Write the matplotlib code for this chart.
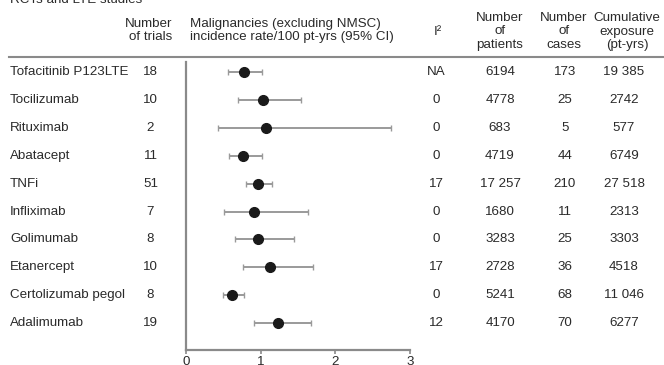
import numpy as np
import matplotlib
matplotlib.use('Agg')
import matplotlib.pyplot as plt
from matplotlib.transforms import blended_transform_factory

plt.rcParams['font.family'] = ['Liberation Sans', 'DejaVu Sans']

W, H = 664, 365

drugs = ['Tofacitinib P123LTE', 'Tocilizumab', 'Rituximab', 'Abatacept', 'TNFi',
         'Infliximab', 'Golimumab', 'Etanercept', 'Certolizumab pegol', 'Adalimumab']
n_trials = ['18', '10', '2', '11', '51', '7', '8', '10', '8', '19']
rate = [0.78, 1.03, 1.07, 0.76, 0.96, 0.91, 0.97, 1.13, 0.62, 1.23]
ci_low = [0.56, 0.70, 0.43, 0.57, 0.81, 0.51, 0.66, 0.76, 0.49, 0.91]
ci_high = [1.02, 1.54, 2.75, 1.02, 1.15, 1.64, 1.44, 1.70, 0.78, 1.68]
i2 = ['NA', '0', '0', '0', '17', '0', '0', '17', '0', '12']
patients = ['6194', '4778', '683', '4719', '17 257', '1680', '3283', '2728', '5241', '4170']
cases = ['173', '25', '5', '44', '210', '11', '25', '36', '68', '70']
exposure = ['19 385', '2742', '577', '6749', '27 518', '2313', '3303', '4518', '11 046', '6277']
x_ticks = [0, 1, 2, 3]

TXT = '#2a2a2a'
FS = 9.6


def fx(px):
    return px / W


def fy(py):
    return 1 - py / H


fig = plt.figure(figsize=(W / 100, H / 100), dpi=100)

# forest plot axes: x 186..410 px, y 62..350 px
ax = fig.add_axes([fx(186), fy(350), fx(410) - fx(186), (350 - 62) / H])
row0, step = 72.3, 27.85
ax.set_ylim((350 - row0) / step, (62 - row0) / step)
ax.set_xlim(0, 3)

y = np.arange(len(drugs))
err = [np.array(rate) - np.array(ci_low), np.array(ci_high) - np.array(rate)]
ax.errorbar(rate, y, xerr=err, fmt='none', ecolor='#9a9a9a', elinewidth=1.4,
            capsize=2.5, capthick=1.0)
ax.plot(rate, y, 'o', color='#1a1a1a', ms=7)

for s in ('top', 'right'):
    ax.spines[s].set_visible(False)
for s in ('left', 'bottom'):
    ax.spines[s].set_color('#8a8a8a')
    ax.spines[s].set_linewidth(1.6)
ax.set_yticks([])
ax.set_xticks(x_ticks)
ax.tick_params(axis='x', length=3, width=1.2, color='#8a8a8a', labelsize=FS,
               labelcolor=TXT, pad=1)

# table columns, x in figure px, y in data rows
tr = blended_transform_factory(fig.transFigure, ax.transData)
for i in range(len(drugs)):
    kw = dict(transform=tr, fontsize=FS, color=TXT, va='center')
    fig.text(fx(10), i, drugs[i], ha='left', **kw)
    fig.text(fx(150.5), i, n_trials[i], ha='center', **kw)
    fig.text(fx(436), i, i2[i], ha='center', **kw)
    fig.text(fx(500), i, patients[i], ha='center', **kw)
    fig.text(fx(565), i, cases[i], ha='center', **kw)
    fig.text(fx(624), i, exposure[i], ha='center', **kw)

# headers
hkw = dict(fontsize=FS, color=TXT, va='center', linespacing=1.12)
fig.text(fx(10), fy(0), 'RCTs and LTE studies', ha='left', fontsize=FS, color=TXT, va='center')
fig.text(fx(172), fy(30.5), 'Number\nof trials', ha='right', multialignment='right', **hkw)
fig.text(fx(190), fy(30.5), 'Malignancies (excluding NMSC)\nincidence rate/100 pt-yrs (95% CI)',
         ha='left', **hkw)
fig.text(fx(438), fy(32), 'I\u00b2', ha='center', **hkw)
fig.text(fx(500), fy(31.5), 'Number\nof\npatients', ha='center', multialignment='center', **hkw)
fig.text(fx(564), fy(31.5), 'Number\nof\ncases', ha='center', multialignment='center', **hkw)
fig.text(fx(627), fy(31.5), 'Cumulative\nexposure\n(pt-yrs)', ha='center', multialignment='center', **hkw)

# separator under header
fig.add_artist(plt.Line2D([fx(9), fx(664)], [fy(57), fy(57)], color='#8a8a8a', lw=1.5))

fig.savefig('out.png', dpi=100)
